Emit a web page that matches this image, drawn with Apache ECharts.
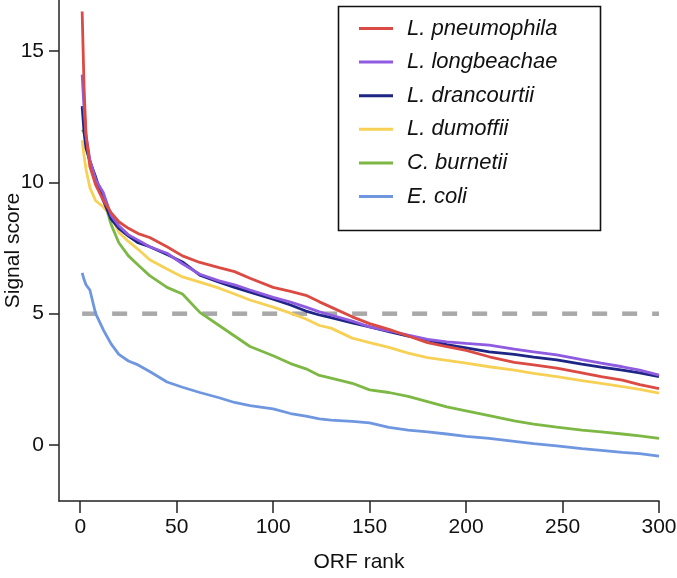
<!DOCTYPE html>
<html><head><meta charset="utf-8">
<script src="https://cdn.jsdelivr.net/npm/echarts@6/dist/echarts.min.js"></script>
<style>html,body{margin:0;padding:0;background:#fff}#c{width:677px;height:578px}</style>
</head><body><div id="c"></div>
<script>
const ranks = [1,2,3,5,8,12,16,20,25,30,36,45,53,62,72,80,88,100,109,117,124,130,141,150,160,170,180,190,200,212,225,235,247,260,270,281,290,300];
const pneumophila = [16.5,13.6,11.8,10.6,9.9,9.3,8.85,8.5,8.25,8.05,7.9,7.55,7.2,6.95,6.75,6.6,6.35,6.0,5.85,5.7,5.45,5.25,4.88,4.62,4.4,4.15,3.9,3.75,3.6,3.36,3.15,3.05,2.93,2.75,2.6,2.47,2.3,2.15];
const longbeachae = [14.1,12.8,11.8,10.85,10.1,9.6,8.75,8.35,8.0,7.8,7.55,7.3,6.9,6.5,6.25,6.1,5.9,5.62,5.44,5.25,5.07,4.95,4.72,4.5,4.35,4.18,4.02,3.93,3.87,3.8,3.65,3.55,3.43,3.25,3.12,2.98,2.85,2.66];
const drancourtii = [12.9,11.9,11.3,10.8,10.2,9.3,8.6,8.25,7.95,7.7,7.55,7.25,6.97,6.47,6.2,6.0,5.82,5.55,5.33,5.1,4.95,4.85,4.65,4.5,4.32,4.15,4.0,3.82,3.7,3.55,3.45,3.35,3.24,3.08,2.97,2.85,2.75,2.6];
const dumoffii = [11.6,11.0,10.5,9.8,9.3,9.06,8.7,8.1,7.75,7.45,7.05,6.7,6.4,6.2,5.97,5.75,5.52,5.25,5.02,4.8,4.55,4.45,4.07,3.9,3.72,3.5,3.33,3.22,3.12,2.98,2.85,2.73,2.6,2.45,2.35,2.22,2.12,1.98];
const burnetii = [12.0,11.9,11.6,10.8,10.1,9.4,8.4,7.7,7.2,6.85,6.45,6.0,5.75,5.05,4.55,4.15,3.75,3.4,3.1,2.9,2.65,2.55,2.35,2.1,2.0,1.85,1.65,1.45,1.3,1.12,0.92,0.8,0.68,0.57,0.5,0.42,0.35,0.25];
const ecoli = [6.55,6.3,6.1,5.9,5.0,4.38,3.85,3.45,3.2,3.05,2.8,2.4,2.2,2.0,1.8,1.62,1.5,1.38,1.2,1.1,1.0,0.95,0.9,0.84,0.67,0.57,0.5,0.42,0.33,0.25,0.14,0.05,-0.03,-0.14,-0.2,-0.28,-0.33,-0.42];
const threshold = 5;
const thresholdRange = [1, 300];
const xTicks = [0,50,100,150,200,250,300];
const yTicks = [0,5,10,15];
const names = ['L. pneumophila','L. longbeachae','L. drancourtii','L. dumoffii','C. burnetii','E. coli'];
const colors = ['#db4a43','#8f5be0','#1d2585','#f6d155','#7db845','#6f97e0'];
const values = [pneumophila, longbeachae, drancourtii, dumoffii, burnetii, ecoli];

const font = '"Liberation Sans", Arial, sans-serif';
const series = [];
for (let i = values.length - 1; i >= 0; i--) {
  series.push({
    name: names[i], type: 'line', showSymbol: false, symbol: 'none',
    data: ranks.map((r, k) => [r, values[i][k]]),
    lineStyle: { color: colors[i], width: 2.8 }, itemStyle: { color: colors[i] },
    z: 3 + (values.length - i)
  });
}
series.unshift({
  name: 'threshold', type: 'line', showSymbol: false, symbol: 'none',
  data: thresholdRange.map(r => [r, threshold]),
  lineStyle: { color: '#a9a9a9', width: 4.5, type: [15, 15] }, z: 2
});

const chart = echarts.init(document.getElementById('c'), null, { renderer: 'canvas' });
chart.setOption({
  animation: false,
  backgroundColor: '#fff',
  grid: { left: 59, right: 18, top: 0, bottom: 77, containLabel: false, outerBoundsMode: 'none' },
  xAxis: {
    type: 'value', min: -11, max: 300,
    name: 'ORF rank', nameLocation: 'middle', nameGap: 51, nameMoveOverlap: false,
    nameTextStyle: { fontFamily: font, fontSize: 21, color: '#111' },
    axisLine: { show: true, onZero: false, lineStyle: { color: '#222', width: 1.5 } },
    axisTick: { show: true, length: 12, lineStyle: { color: '#222', width: 1.5 }, customValues: xTicks },
    axisLabel: { fontFamily: font, fontSize: 21, color: '#111', margin: 16, customValues: xTicks },
    splitLine: { show: false }
  },
  yAxis: {
    type: 'value', min: -2.13, max: 16.94,
    name: 'Signal score', nameLocation: 'middle', nameGap: 35, nameRotate: 90, nameMoveOverlap: false,
    nameTextStyle: { fontFamily: font, fontSize: 21, color: '#111' },
    axisLine: { show: true, onZero: false, lineStyle: { color: '#222', width: 1.5 } },
    axisTick: { show: true, length: 10, lineStyle: { color: '#222', width: 1.5 }, customValues: yTicks },
    axisLabel: { fontFamily: font, fontSize: 21, color: '#111', margin: 15, customValues: yTicks },
    splitLine: { show: false }
  },
  legend: {
    data: names, orient: 'vertical', left: 354, top: 12,
    itemWidth: 34, itemHeight: 3, itemGap: 10.6, icon: 'rect',
    textStyle: { fontFamily: font, fontSize: 22, fontStyle: 'italic', color: '#111', lineHeight: 23, padding: [0,0,0,9] }
  },
  graphic: [{
    type: 'rect', left: 336, top: 4, shape: { width: 262, height: 224 },
    style: { fill: 'none', stroke: '#111', lineWidth: 1.6 }, z: 100
  }],
  series: series
});
</script></body></html>
